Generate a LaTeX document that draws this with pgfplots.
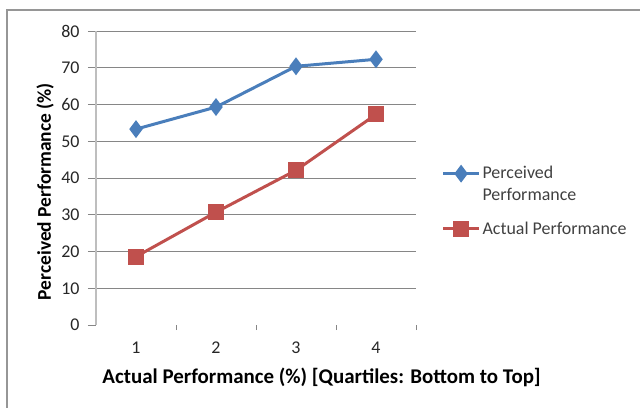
\documentclass[border=0pt]{standalone}
\usepackage{pgfplots}
\pgfplotsset{compat=1.18}
\usepackage{fontspec}
\setmainfont{Carlito}
\definecolor{pblue}{RGB}{74,126,187}
\definecolor{pred}{RGB}{192,80,77}
\definecolor{gridc}{RGB}{134,134,134}
\definecolor{framec}{RGB}{150,150,150}
\definecolor{yaxc}{RGB}{190,190,190}
\begin{document}
\begin{tikzpicture}
\useasboundingbox (-96bp,-83bp) rectangle (544bp,325bp);
\draw[framec, line width=1.5bp] (-89bp,-83bp) -- (-89bp,315bp) -- (544bp,315bp);
\begin{axis}[
  at={(0,0)}, anchor=south west,
  scale only axis, width=320bp, height=294bp,
  xmin=0.5, xmax=4.5, ymin=0, ymax=80,
  axis y line*=left, axis x line*=bottom,
  x axis line style={draw=none},
  y axis line style={draw=yaxc, line width=1.5bp},
  /pgf/number format/assume math mode=true,
  ytick={10,20,...,80}, extra y ticks={0}, extra y tick style={grid=none},
  ymajorgrids, grid style={gridc, line width=0.8bp},
  tick align=outside, major tick length=8bp,
  y tick style={gridc, line width=0.8bp},
  xtick={1,2,3,4}, x tick style={draw=none},
  extra x ticks={1.5,2.5,3.5,4.5}, extra x tick labels={},
  extra x tick style={x tick style={draw=gridc, line width=0.8bp}, major tick length=5bp},
  ticklabel style={font=\fontsize{18}{21}\selectfont, text=black!85},
  xticklabel style={yshift=-5bp},
  yticklabel style={xshift=-5bp},
  xlabel={Actual Performance (\%) [Quartiles: Bottom to Top]},
  ylabel={Perceived Performance (\%)},
  xlabel style={font=\bfseries\fontsize{21}{24}\selectfont, at={(axis description cs:0.705,-0.177)}, anchor=center},
  ylabel style={font=\bfseries\fontsize{19.5}{23}\selectfont, at={(axis description cs:-0.159,0.454)}, anchor=center, rotate=0},
  legend cell align=left,
  legend style={draw=none, fill=none, at={(axis description cs:1.07,0.556)}, anchor=north west,
    font=\fontsize{18}{22}\selectfont, nodes={align=left, text=black!75}, row sep=16bp},
]
\addplot[pblue, line width=3bp, mark=diamond*, mark size=6.5bp, mark options={solid},
  legend image code/.code={\path (0bp,-17bp); \draw[mark repeat=2,mark phase=2] plot coordinates {(0bp,10bp)(18bp,10bp)(36bp,10bp)};}]
  coordinates {(1,53.3)(2,59.3)(3,70.4)(4,72.3)};
\addlegendentry{Perceived\\Performance}
\addplot[pred, line width=3bp, mark=square*, mark size=6.5bp, mark options={solid},
  legend image code/.code={\draw[mark repeat=2,mark phase=2] plot coordinates {(0bp,0bp)(18bp,0bp)(36bp,0bp)};}]
  coordinates {(1,18.6)(2,30.7)(3,42.1)(4,57.3)};
\addlegendentry{Actual Performance}
\end{axis}
\end{tikzpicture}
\end{document}
